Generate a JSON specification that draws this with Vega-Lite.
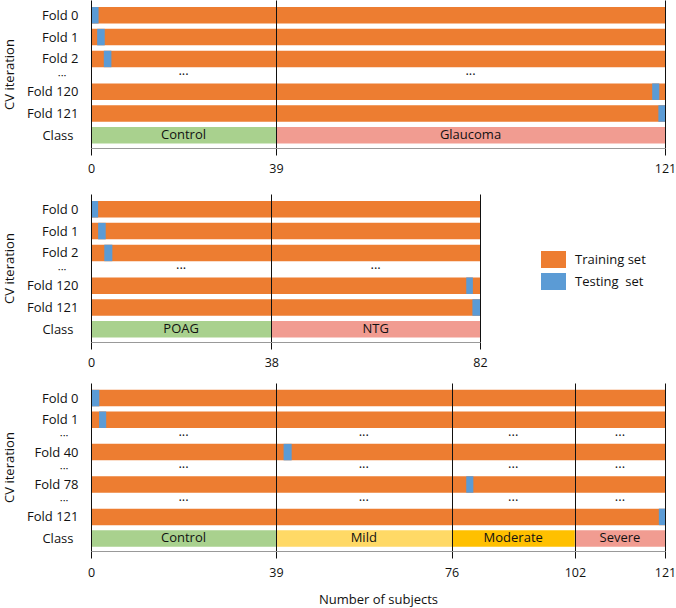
{
  "$schema": "https://vega.github.io/schema/vega-lite/v6.json",
  "padding": {"left": 3, "top": 0, "right": 0, "bottom": 0},
  "spacing": 19,
  "config": {
    "font": "Open Sans",
    "view": {"stroke": null},
    "axis": {"labelFontSize": 13, "titleFontSize": 13, "titleFontWeight": "normal", "labelColor": "#111", "titleColor": "#111"},
    "axisX": {"labelFontSize": 12.5},
    "axisY": {"labelOverlap": false},
    "text": {"fontSize": 13, "color": "#111"}
  },
  "datasets": {
    "p1": [
      {"kind": "fold", "row": 0, "set": "Training set", "start": 0, "end": 121},
      {"kind": "fold", "row": 0, "set": "Testing\u00a0 set", "start": 0, "end": 1.6},
      {"kind": "fold", "row": 1, "set": "Training set", "start": 0, "end": 121},
      {"kind": "fold", "row": 1, "set": "Testing\u00a0 set", "start": 1.3, "end": 2.9},
      {"kind": "fold", "row": 2, "set": "Training set", "start": 0, "end": 121},
      {"kind": "fold", "row": 2, "set": "Testing\u00a0 set", "start": 2.7, "end": 4.3},
      {"kind": "fold", "row": 3.5, "set": "Training set", "start": 0, "end": 121},
      {"kind": "fold", "row": 3.5, "set": "Testing\u00a0 set", "start": 118.3, "end": 119.8},
      {"kind": "fold", "row": 4.5, "set": "Training set", "start": 0, "end": 121},
      {"kind": "fold", "row": 4.5, "set": "Testing\u00a0 set", "start": 119.6, "end": 121},
      {"kind": "class", "row": 5.5, "cls": "Control", "start": 0, "end": 39, "mid": 19.5, "text": "Control"},
      {"kind": "class", "row": 5.5, "cls": "Glaucoma", "start": 39, "end": 121, "mid": 80, "text": "Glaucoma"},
      {"kind": "dots", "row": 2.75, "mid": 19.5, "text": "\u00b7\u00b7\u00b7"},
      {"kind": "dots", "row": 2.75, "mid": 80, "text": "\u00b7\u00b7\u00b7"}
    ],
    "p2": [
      {"kind": "fold", "row": 0, "set": "Training set", "start": 0, "end": 82},
      {"kind": "fold", "row": 0, "set": "Testing\u00a0 set", "start": 0.1, "end": 1.5},
      {"kind": "fold", "row": 1, "set": "Training set", "start": 0, "end": 82},
      {"kind": "fold", "row": 1, "set": "Testing\u00a0 set", "start": 1.5, "end": 3.1},
      {"kind": "fold", "row": 2, "set": "Training set", "start": 0, "end": 82},
      {"kind": "fold", "row": 2, "set": "Testing\u00a0 set", "start": 2.8, "end": 4.5},
      {"kind": "fold", "row": 3.5, "set": "Training set", "start": 0, "end": 82},
      {"kind": "fold", "row": 3.5, "set": "Testing\u00a0 set", "start": 79.1, "end": 80.5},
      {"kind": "fold", "row": 4.5, "set": "Training set", "start": 0, "end": 82},
      {"kind": "fold", "row": 4.5, "set": "Testing\u00a0 set", "start": 80.4, "end": 82},
      {"kind": "class", "row": 5.5, "cls": "POAG", "start": 0, "end": 38, "mid": 19, "text": "POAG"},
      {"kind": "class", "row": 5.5, "cls": "NTG", "start": 38, "end": 82, "mid": 60, "text": "NTG"},
      {"kind": "dots", "row": 2.75, "mid": 19, "text": "\u00b7\u00b7\u00b7"},
      {"kind": "dots", "row": 2.75, "mid": 60, "text": "\u00b7\u00b7\u00b7"}
    ],
    "p3": [
      {"kind": "fold", "row": 0, "set": "Training set", "start": 0, "end": 121},
      {"kind": "fold", "row": 0, "set": "Testing\u00a0 set", "start": 0.1, "end": 1.75},
      {"kind": "fold", "row": 1, "set": "Training set", "start": 0, "end": 121},
      {"kind": "fold", "row": 1, "set": "Testing\u00a0 set", "start": 1.7, "end": 3.2},
      {"kind": "fold", "row": 2.5, "set": "Training set", "start": 0, "end": 121},
      {"kind": "fold", "row": 2.5, "set": "Testing\u00a0 set", "start": 40.6, "end": 42.3},
      {"kind": "fold", "row": 4, "set": "Training set", "start": 0, "end": 121},
      {"kind": "fold", "row": 4, "set": "Testing\u00a0 set", "start": 79.1, "end": 80.6},
      {"kind": "fold", "row": 5.5, "set": "Training set", "start": 0, "end": 121},
      {"kind": "fold", "row": 5.5, "set": "Testing\u00a0 set", "start": 119.7, "end": 121},
      {"kind": "class", "row": 6.5, "cls": "Control", "start": 0, "end": 39, "mid": 19.5, "text": "Control"},
      {"kind": "class", "row": 6.5, "cls": "Mild", "start": 39, "end": 76, "mid": 57.5, "text": "Mild"},
      {"kind": "class", "row": 6.5, "cls": "Moderate", "start": 76, "end": 102, "mid": 89, "text": "Moderate"},
      {"kind": "class", "row": 6.5, "cls": "Severe", "start": 102, "end": 121, "mid": 111.5, "text": "Severe"},
      {"kind": "dots", "row": 1.75, "mid": 19.5, "text": "\u00b7\u00b7\u00b7"},
      {"kind": "dots", "row": 1.75, "mid": 57.5, "text": "\u00b7\u00b7\u00b7"},
      {"kind": "dots", "row": 1.75, "mid": 89, "text": "\u00b7\u00b7\u00b7"},
      {"kind": "dots", "row": 1.75, "mid": 111.5, "text": "\u00b7\u00b7\u00b7"},
      {"kind": "dots", "row": 3.25, "mid": 19.5, "text": "\u00b7\u00b7\u00b7"},
      {"kind": "dots", "row": 3.25, "mid": 57.5, "text": "\u00b7\u00b7\u00b7"},
      {"kind": "dots", "row": 3.25, "mid": 89, "text": "\u00b7\u00b7\u00b7"},
      {"kind": "dots", "row": 3.25, "mid": 111.5, "text": "\u00b7\u00b7\u00b7"},
      {"kind": "dots", "row": 4.75, "mid": 19.5, "text": "\u00b7\u00b7\u00b7"},
      {"kind": "dots", "row": 4.75, "mid": 57.5, "text": "\u00b7\u00b7\u00b7"},
      {"kind": "dots", "row": 4.75, "mid": 89, "text": "\u00b7\u00b7\u00b7"},
      {"kind": "dots", "row": 4.75, "mid": 111.5, "text": "\u00b7\u00b7\u00b7"}
    ]
  },
  "vconcat": [
    {
      "width": 574,
      "height": 148,
      "data": {"name": "p1"},
      "encoding": {
        "y": {"field": "row", "type": "quantitative", "scale": {"domain": [-0.7, 6.08], "reverse": true, "nice": false, "zero": false, "padding": 0},
          "axis": {"values": [0, 1, 2, 2.75, 3.5, 4.5, 5.5], "labelExpr": "datum.value == 5.5 ? 'Class' : datum.value == 2.75 ? '\u00b7\u00b7\u00b7' : datum.value == 3.5 ? 'Fold 120' : datum.value == 4.5 ? 'Fold 121' : 'Fold ' + datum.value", "title": "CV iteration", "grid": false, "ticks": false, "domain": false, "labelPadding": {"condition": [{"test": "datum.value == 2.75", "value": 25}, {"test": "datum.value == 5.5", "value": 18}], "value": 13}, "labelFontSize": {"condition": {"test": "datum.value == 2.75", "value": 11}, "value": 13}, "titlePadding": 10, "labelOverlap": false}}
      },
      "layer": [
        {
          "transform": [{"filter": "datum.kind == 'fold'"}],
          "mark": {"type": "bar", "orient": "horizontal", "size": 16.5},
          "encoding": {
            "x": {"field": "start", "type": "quantitative", "scale": {"domain": [0, 121], "nice": false},
              "axis": {"values": [0, 39, 121], "title": null, "grid": true, "gridColor": "#111", "gridOpacity": 1, "tickColor": "#111", "tickSize": 7, "domainColor": "#999", "labelPadding": 7, "labelFlush": false, "labelOverlap": false, "zindex": 1}},
            "x2": {"field": "end"},
            "color": {"field": "set", "type": "nominal", "scale": {"domain": ["Training set", "Testing\u00a0 set"], "range": ["#ED7D31", "#5B9BD5"]},
              "legend": {"title": null, "orient": "none", "legendX": 450, "legendY": 247, "symbolType": "M-1,-0.68H1V0.68H-1Z", "symbolSize": 625, "symbolStrokeWidth": 0, "symbolOpacity": 1, "labelFontSize": 13, "labelColor": "#111", "labelOffset": 9, "rowPadding": 1}}
          }
        },
        {
          "transform": [{"filter": "datum.kind == 'class'"}],
          "mark": {"type": "bar", "orient": "horizontal", "size": 16.5},
          "encoding": {
            "x": {"field": "start", "type": "quantitative", "scale": {"domain": [0, 121], "nice": false}},
            "x2": {"field": "end"},
            "fill": {"field": "cls", "type": "nominal", "scale": {"domain": ["Control", "Glaucoma", "POAG", "NTG", "Mild", "Moderate", "Severe"], "range": ["#A9D18E", "#F19C91", "#A9D18E", "#F19C91", "#FFD966", "#FFC000", "#F19C91"]}, "legend": null}
          }
        },
        {
          "transform": [{"filter": "datum.kind != 'fold'"}],
          "mark": {"type": "text", "baseline": "middle"},
          "encoding": {
            "x": {"field": "mid", "type": "quantitative", "scale": {"domain": [0, 121], "nice": false}},
            "text": {"field": "text"}
          }
        }
      ]
    },
    {
      "spacing": 14,
      "vconcat": [
        {
          "width": 389,
          "height": 148,
          "data": {"name": "p2"},
          "encoding": {
            "y": {"field": "row", "type": "quantitative", "scale": {"domain": [-0.7, 6.08], "reverse": true, "nice": false, "zero": false, "padding": 0},
              "axis": {"values": [0, 1, 2, 2.75, 3.5, 4.5, 5.5], "labelExpr": "datum.value == 5.5 ? 'Class' : datum.value == 2.75 ? '\u00b7\u00b7\u00b7' : datum.value == 3.5 ? 'Fold 120' : datum.value == 4.5 ? 'Fold 121' : 'Fold ' + datum.value", "title": "CV iteration", "grid": false, "ticks": false, "domain": false, "labelPadding": {"condition": [{"test": "datum.value == 2.75", "value": 25}, {"test": "datum.value == 5.5", "value": 18}], "value": 13}, "labelFontSize": {"condition": {"test": "datum.value == 2.75", "value": 11}, "value": 13}, "titlePadding": 10, "labelOverlap": false}}
          },
          "layer": [
            {
              "transform": [{"filter": "datum.kind == 'fold'"}],
              "mark": {"type": "bar", "orient": "horizontal", "size": 16.5},
              "encoding": {
                "x": {"field": "start", "type": "quantitative", "scale": {"domain": [0, 82], "nice": false},
                  "axis": {"values": [0, 38, 82], "title": null, "grid": true, "gridColor": "#111", "gridOpacity": 1, "tickColor": "#111", "tickSize": 7, "domainColor": "#999", "labelPadding": 7, "labelFlush": false, "labelOverlap": false, "zindex": 1}},
                "x2": {"field": "end"},
                "color": {"field": "set", "type": "nominal", "scale": {"domain": ["Training set", "Testing\u00a0 set"], "range": ["#ED7D31", "#5B9BD5"]},
                  "legend": {"title": null, "orient": "none", "legendX": 450, "legendY": 247, "symbolType": "M-1,-0.68H1V0.68H-1Z", "symbolSize": 625, "symbolStrokeWidth": 0, "symbolOpacity": 1, "labelFontSize": 13, "labelColor": "#111", "labelOffset": 9, "rowPadding": 1}}
              }
            },
            {
              "transform": [{"filter": "datum.kind == 'class'"}],
              "mark": {"type": "bar", "orient": "horizontal", "size": 16.5},
              "encoding": {
                "x": {"field": "start", "type": "quantitative", "scale": {"domain": [0, 82], "nice": false}},
                "x2": {"field": "end"},
                "fill": {"field": "cls", "type": "nominal", "scale": {"domain": ["Control", "Glaucoma", "POAG", "NTG", "Mild", "Moderate", "Severe"], "range": ["#A9D18E", "#F19C91", "#A9D18E", "#F19C91", "#FFD966", "#FFC000", "#F19C91"]}, "legend": null}
              }
            },
            {
              "transform": [{"filter": "datum.kind != 'fold'"}],
              "mark": {"type": "text", "baseline": "middle"},
              "encoding": {
                "x": {"field": "mid", "type": "quantitative", "scale": {"domain": [0, 82], "nice": false}},
                "text": {"field": "text"}
              }
            }
          ]
        },
        {
          "width": 574,
          "height": 168,
          "data": {"name": "p3"},
          "encoding": {
            "y": {"field": "row", "type": "quantitative", "scale": {"domain": [-0.7, 7.08], "reverse": true, "nice": false, "zero": false, "padding": 0},
              "axis": {"values": [0, 1, 1.75, 2.5, 3.25, 4, 4.75, 5.5, 6.5], "labelExpr": "datum.value == 6.5 ? 'Class' : (datum.value == 1.75 || datum.value == 3.25 || datum.value == 4.75) ? '\u00b7\u00b7\u00b7' : datum.value == 2.5 ? 'Fold 40' : datum.value == 4 ? 'Fold 78' : datum.value == 5.5 ? 'Fold 121' : 'Fold ' + datum.value", "title": "CV iteration", "grid": false, "ticks": false, "domain": false, "labelPadding": {"condition": [{"test": "datum.value == 1.75 || datum.value == 3.25 || datum.value == 4.75", "value": 23}, {"test": "datum.value == 6.5", "value": 18}], "value": 13}, "labelFontSize": {"condition": {"test": "datum.value == 1.75 || datum.value == 3.25 || datum.value == 4.75", "value": 11}, "value": 13}, "titlePadding": 10, "labelOverlap": false}}
          },
          "layer": [
            {
              "transform": [{"filter": "datum.kind == 'fold'"}],
              "mark": {"type": "bar", "orient": "horizontal", "size": 16.5},
              "encoding": {
                "x": {"field": "start", "type": "quantitative", "scale": {"domain": [0, 121], "nice": false},
                  "axis": {"values": [0, 39, 76, 102, 121], "title": "Number of subjects", "titlePadding": 15, "grid": true, "gridColor": "#111", "gridOpacity": 1, "tickColor": "#111", "tickSize": 7, "domainColor": "#999", "labelPadding": 8, "labelFlush": false, "labelOverlap": false, "zindex": 1}},
                "x2": {"field": "end"},
                "color": {"field": "set", "type": "nominal", "scale": {"domain": ["Training set", "Testing\u00a0 set"], "range": ["#ED7D31", "#5B9BD5"]},
                  "legend": {"title": null, "orient": "none", "legendX": 450, "legendY": 247, "symbolType": "M-1,-0.68H1V0.68H-1Z", "symbolSize": 625, "symbolStrokeWidth": 0, "symbolOpacity": 1, "labelFontSize": 13, "labelColor": "#111", "labelOffset": 9, "rowPadding": 1}}
              }
            },
            {
              "transform": [{"filter": "datum.kind == 'class'"}],
              "mark": {"type": "bar", "orient": "horizontal", "size": 16.5},
              "encoding": {
                "x": {"field": "start", "type": "quantitative", "scale": {"domain": [0, 121], "nice": false}},
                "x2": {"field": "end"},
                "fill": {"field": "cls", "type": "nominal", "scale": {"domain": ["Control", "Glaucoma", "POAG", "NTG", "Mild", "Moderate", "Severe"], "range": ["#A9D18E", "#F19C91", "#A9D18E", "#F19C91", "#FFD966", "#FFC000", "#F19C91"]}, "legend": null}
              }
            },
            {
              "transform": [{"filter": "datum.kind != 'fold'"}],
              "mark": {"type": "text", "baseline": "middle"},
              "encoding": {
                "x": {"field": "mid", "type": "quantitative", "scale": {"domain": [0, 121], "nice": false}},
                "text": {"field": "text"}
              }
            }
          ]
        }
      ]
    }
  ]
}
